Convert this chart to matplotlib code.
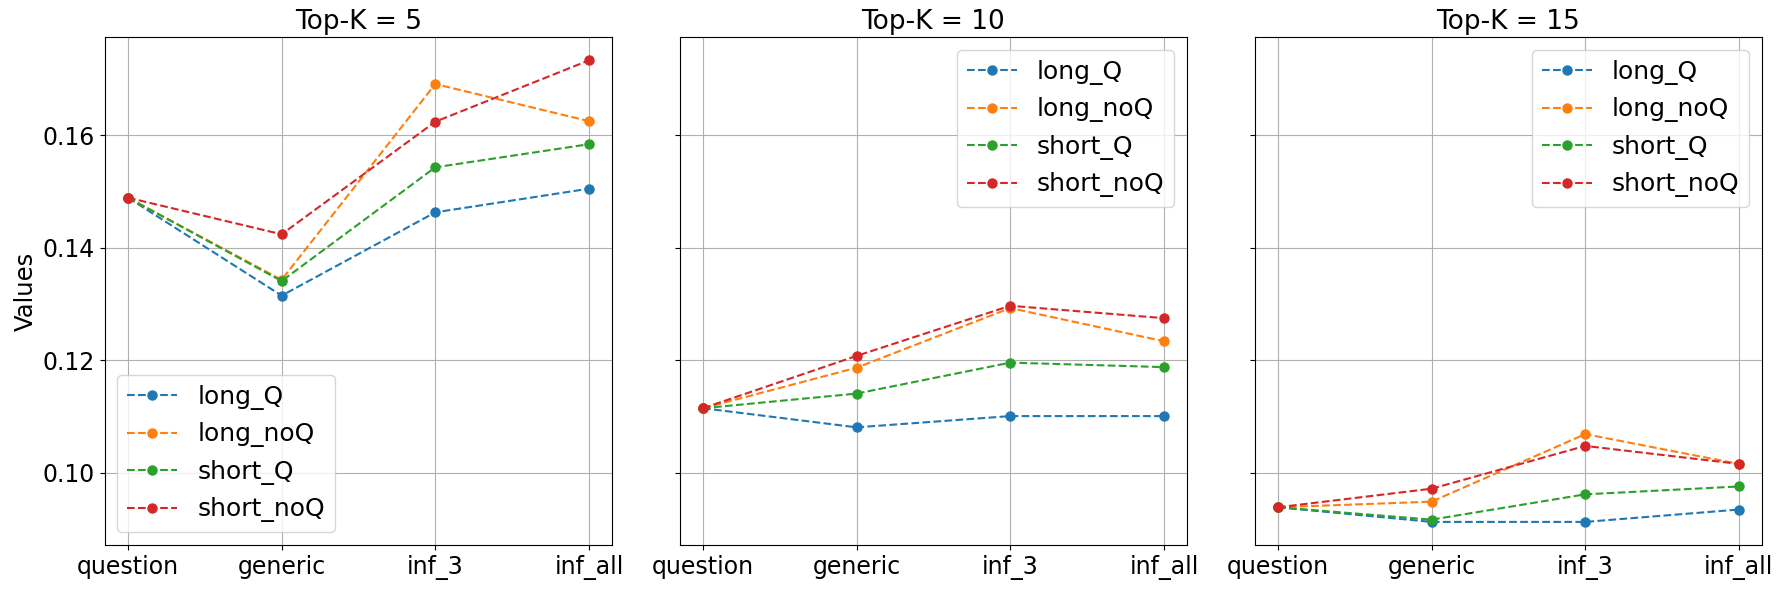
import matplotlib
matplotlib.use("Agg")
import matplotlib.pyplot as plt
from matplotlib.ticker import MultipleLocator

categories = ["question", "generic", "inf_3", "inf_all"]
series_names = ["long_Q", "long_noQ", "short_Q", "short_noQ"]
top_k = [5, 10, 15]

# values per top-k, one list per series
k5_long_Q = [0.1489, 0.1315, 0.1463, 0.1505]
k5_long_noQ = [0.1489, 0.1343, 0.1691, 0.1625]
k5_short_Q = [0.1489, 0.1341, 0.1543, 0.1584]
k5_short_noQ = [0.1489, 0.1424, 0.1624, 0.1733]

k10_long_Q = [0.1115, 0.1081, 0.1101, 0.1101]
k10_long_noQ = [0.1115, 0.1187, 0.1293, 0.1234]
k10_short_Q = [0.1115, 0.1141, 0.1196, 0.1188]
k10_short_noQ = [0.1115, 0.1208, 0.1297, 0.1275]

k15_long_Q = [0.0939, 0.0913, 0.0913, 0.0935]
k15_long_noQ = [0.0939, 0.0949, 0.1069, 0.1016]
k15_short_Q = [0.0939, 0.0917, 0.0962, 0.0976]
k15_short_noQ = [0.0939, 0.0972, 0.1048, 0.1016]

panels = [
    [k5_long_Q, k5_long_noQ, k5_short_Q, k5_short_noQ],
    [k10_long_Q, k10_long_noQ, k10_short_Q, k10_short_noQ],
    [k15_long_Q, k15_long_noQ, k15_short_Q, k15_short_noQ],
]

plt.rcParams["font.size"] = 17

fig, axes = plt.subplots(1, 3, figsize=(17.85, 5.9), dpi=100, sharey=True)

for i, (ax, k, panel) in enumerate(zip(axes, top_k, panels)):
    for name, vals in zip(series_names, panel):
        ax.plot(categories, vals, "o--", label=name, markersize=6.5)
    ax.set_title(f"Top-K = {k}", fontsize=19)
    ax.tick_params(labelsize=17)
    ax.grid(True)
    if i == 0:
        ax.set_ylabel("Values", fontsize=17.5)
        ax.legend(loc="lower left", fontsize=18)
    else:
        ax.legend(loc="upper right", fontsize=18)

axes[0].yaxis.set_major_locator(MultipleLocator(0.02))
fig.subplots_adjust(left=0.0588, right=0.9871, top=0.9368, bottom=0.0763, wspace=0.134)
plt.savefig("out.png")
